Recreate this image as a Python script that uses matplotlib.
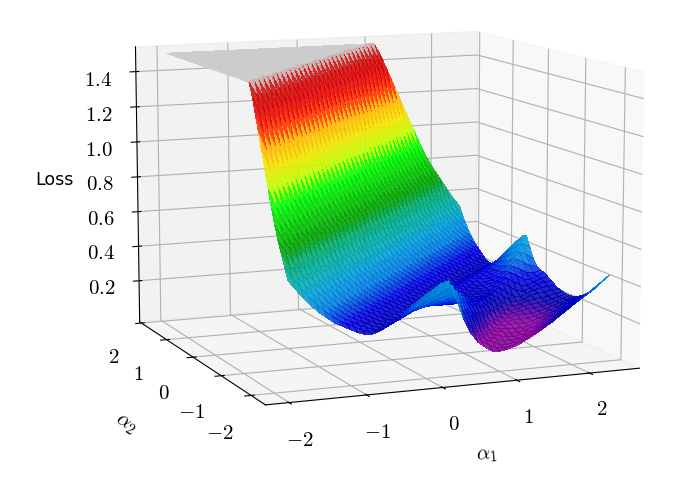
import numpy as np
import matplotlib
matplotlib.use("Agg")
import matplotlib.pyplot as plt

plt.rcParams['mathtext.fontset'] = 'cm'

# grid of the two directions
alpha1 = np.linspace(-1.9, 2.4, 44)
alpha2 = np.linspace(-2.2, 2.0, 43)

# loss read across the valleys, along d = alpha1 - alpha2 (-3.9 .. 4.6, step 0.1)
loss_profile = [1.5] * 31 + [
    1.43, 1.34, 1.25, 1.16, 1.07, 0.98, 0.89, 0.81, 0.74, 0.68,
    0.62, 0.56, 0.51, 0.46, 0.42, 0.38, 0.35, 0.32, 0.30, 0.28,
    0.26, 0.245, 0.245, 0.26, 0.28, 0.30, 0.32, 0.34, 0.36, 0.39,
    0.42, 0.46, 0.49, 0.41, 0.31, 0.23, 0.17, 0.13, 0.095, 0.09,
    0.095, 0.105, 0.12, 0.14, 0.16, 0.185, 0.21, 0.24, 0.27, 0.30,
    0.33, 0.36, 0.39, 0.42, 0.45,
]
# weight of the ridge sag and of the bowl tilt, same d positions
ridge_weight = [0.0] * 57 + [
    0.15, 0.3, 0.45, 0.6, 0.75, 0.9, 1.0, 0.85, 0.65, 0.45, 0.25, 0.1,
] + [0.0] * 17
bowl_weight = [0.0] * 64 + [
    0.15, 0.35, 0.55, 0.75, 0.9, 1.0, 1.0, 0.95, 0.88, 0.8,
    0.7, 0.6, 0.5, 0.4, 0.3, 0.2, 0.12, 0.05,
] + [0.0] * 4

# changes along the valleys, e = alpha1 + alpha2 (-4.1 .. 4.4, step 0.1)
ridge_sag = [0.0] * 15 + [
    0.136, 0.112, 0.088, 0.064, 0.042, 0.020, 0.0, -0.020, -0.037, -0.055,
    -0.073, -0.088, -0.103, -0.119, -0.132, -0.143, -0.154, -0.165, -0.174, -0.183,
    -0.191, -0.198, -0.205, -0.209, -0.213, -0.216, -0.218, -0.22, -0.22, -0.22,
    -0.218, -0.216, -0.213, -0.209, -0.205, -0.198, -0.191, -0.183, -0.174, -0.165,
    -0.154, -0.143, -0.132, -0.119, -0.103, -0.088, -0.073, -0.055, -0.037, -0.020,
    0.0, 0.020, 0.042, 0.064, 0.088, 0.112, 0.136,
] + [0.0] * 14
bowl_tilt = [0.0] * 28 + [
    0.002, 0.005, 0.007, 0.01, 0.013, 0.017, 0.021, 0.025, 0.03, 0.034,
    0.04, 0.045, 0.051, 0.057, 0.063, 0.07, 0.077, 0.085, 0.092, 0.1,
    0.107, 0.115, 0.122, 0.13, 0.14, 0.15, 0.16, 0.17, 0.18, 0.19,
    0.2, 0.21, 0.22, 0.23, 0.24, 0.25, 0.26, 0.27,
] + [0.28] * 20

x_ticks = [-2, -1, 0, 1, 2]
y_ticks = [-2, -1, 0, 1, 2]
z_ticks = [0.2, 0.4, 0.6, 0.8, 1.0, 1.2, 1.4]

n1, n2 = len(alpha1), len(alpha2)
Z = np.zeros((n2, n1))
for j in range(n2):
    for i in range(n1):
        k = i + n2 - 1 - j   # position along d
        m = i + j            # position along e
        Z[j, i] = (loss_profile[k] + ridge_weight[k] * ridge_sag[m]
                   + bowl_weight[k] * bowl_tilt[m])
X, Y = np.meshgrid(alpha1, alpha2)

fig = plt.figure(figsize=(6.8, 5.04), dpi=100)
ax = fig.add_axes([0.049, 0.084, 1.0, 1.0], projection='3d')
ax.plot_surface(X, Y, Z, cmap='nipy_spectral', vmin=0, vmax=1.5, alpha=0.85,
                rstride=1, cstride=1, linewidth=0, antialiased=False)

ax.view_init(elev=9.8, azim=-112.3)
ax.set_box_aspect(None, zoom=1.19)
ax.set_xlim(-2.3, 2.7)
ax.set_ylim(-2.46, 2.07)
ax.set_zlim(-0.04, 1.54)

ax.set_xticks(x_ticks)
ax.set_xticklabels(['$%g$' % t for t in x_ticks], fontsize=15)
ax.set_yticks(y_ticks)
ax.set_yticklabels(['$%g$' % t for t in y_ticks], fontsize=15)
ax.set_zticks(z_ticks)
ax.set_zticklabels(['$%.1f$' % t for t in z_ticks], fontsize=15)
ax.tick_params(axis='x', pad=5)
ax.tick_params(axis='y', pad=7)
ax.tick_params(axis='z', pad=7.3)

ax.set_xlabel(r'$\alpha_1$', fontsize=15, labelpad=12)
ax.set_ylabel(r'$\alpha_2$', fontsize=15, labelpad=16)
ax.zaxis.set_rotate_label(False)
ax.set_zlabel('Loss', fontsize=12.5, rotation=0, labelpad=13)

plt.savefig('out.png', dpi=100)
